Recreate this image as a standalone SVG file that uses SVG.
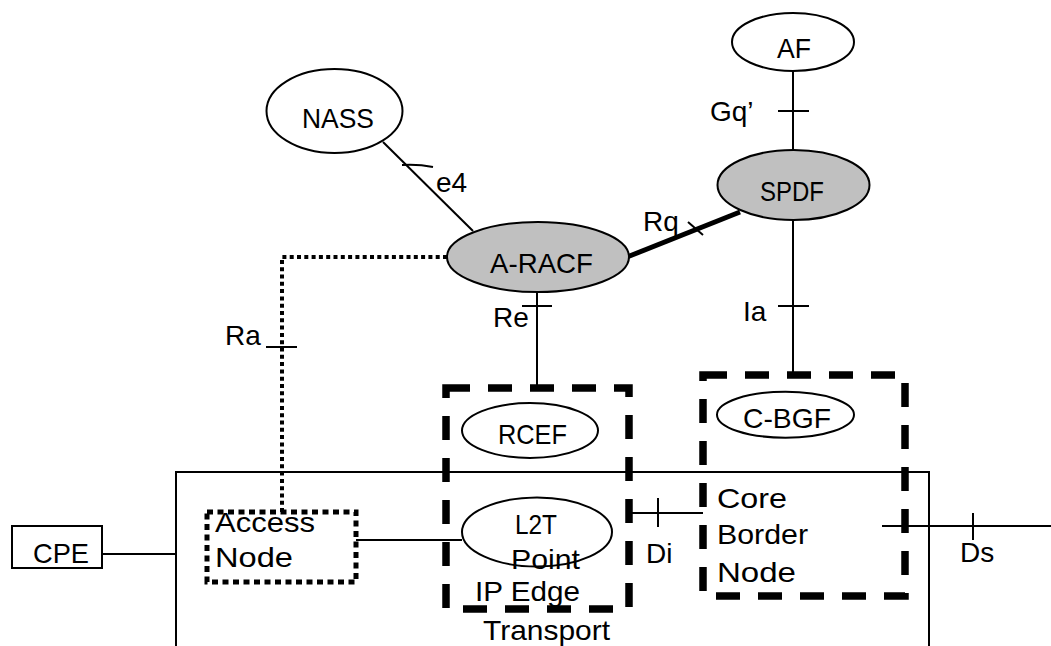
<svg xmlns="http://www.w3.org/2000/svg" width="1051" height="646" viewBox="0 0 1051 646">
<style>
text{font-family:"Liberation Sans",Arial,sans-serif;font-size:28px;fill:#000}
.ell{fill:#fff;stroke:#000;stroke-width:2}
.grey{fill:#c0c0c0;stroke:#000;stroke-width:2}
.ln{stroke:#000;stroke-width:2;fill:none}
.dash{fill:none;stroke:#000;stroke-width:7.5;stroke-dasharray:24 18}
.dot{fill:none;stroke:#000;stroke-width:5;stroke-dasharray:6 4.5}
</style>
<rect width="1051" height="646" fill="#fff"/>
<g id="transport">
<rect class="ln" x="176" y="472" width="753" height="200"/>
<text x="483" y="640" textLength="127" lengthAdjust="spacingAndGlyphs">Transport</text>
</g>
<g id="connectors">
<line class="ln" x1="383" y1="142" x2="473" y2="231"/>
<path class="ln" d="M402,165 Q418,164 433,167"/>
<line x1="627" y1="257" x2="740" y2="212" stroke="#000" stroke-width="5"/>
<line class="ln" x1="688" y1="222" x2="703" y2="235"/>
<line class="ln" x1="793" y1="71" x2="793" y2="150"/>
<line class="ln" x1="778" y1="111" x2="809" y2="111"/>
<line class="ln" x1="793" y1="220" x2="793" y2="375"/>
<line class="ln" x1="778" y1="306" x2="809" y2="306"/>
<line class="ln" x1="537" y1="292" x2="537" y2="388"/>
<line class="ln" x1="522" y1="306" x2="552" y2="306"/>
<path d="M447,257 H282 V512" fill="none" stroke="#000" stroke-width="4" stroke-dasharray="4 3.3"/>
<line class="ln" x1="266" y1="347" x2="297" y2="347"/>
<line class="ln" x1="102" y1="554" x2="176" y2="554"/>
<line class="ln" x1="356" y1="540" x2="462" y2="540"/>
<line class="ln" x1="627" y1="513" x2="703" y2="513"/>
<line class="ln" x1="658" y1="498" x2="658" y2="527"/>
<line class="ln" x1="882" y1="526" x2="1051" y2="526"/>
<line class="ln" x1="973" y1="513" x2="973" y2="540"/>
<text x="436" y="192">e4</text>
<text x="710" y="121">Gq’</text>
<text x="643" y="231">Rq</text>
<text x="493" y="327">Re</text>
<text x="225" y="345">Ra</text>
<text x="743" y="321">Ia</text>
<text x="646" y="563">Di</text>
<text x="960" y="562">Ds</text>
</g>
<g id="nass">
<ellipse class="ell" cx="334.5" cy="111" rx="68" ry="42"/>
<text x="302" y="128" textLength="72" lengthAdjust="spacingAndGlyphs">NASS</text>
</g>
<g id="af">
<ellipse class="ell" cx="793" cy="42" rx="61" ry="29"/>
<text x="777" y="58" textLength="34" lengthAdjust="spacingAndGlyphs">AF</text>
</g>
<g id="spdf">
<ellipse class="grey" cx="793.5" cy="185" rx="76" ry="35"/>
<text x="760" y="201" textLength="64" lengthAdjust="spacingAndGlyphs">SPDF</text>
</g>
<g id="a-racf">
<ellipse class="grey" cx="538" cy="257" rx="91" ry="35"/>
<text x="490" y="273" textLength="103" lengthAdjust="spacingAndGlyphs">A-RACF</text>
</g>
<g id="rcef-box">
<rect class="dash" x="446" y="388" width="183" height="221"/>
</g>
<g id="rcef">
<ellipse class="ell" cx="530" cy="430.5" rx="68" ry="27.5"/>
<text x="498" y="444" textLength="69" lengthAdjust="spacingAndGlyphs">RCEF</text>
</g>
<g id="cbgf-box">
<rect class="dash" x="703" y="375" width="202" height="221"/>
</g>
<g id="cbgf">
<ellipse class="ell" cx="785.5" cy="414.7" rx="68.5" ry="23"/>
<text x="743" y="428" textLength="88" lengthAdjust="spacingAndGlyphs">C-BGF</text>
</g>
<g id="l2t">
<ellipse class="ell" cx="537" cy="532" rx="75" ry="34.5"/>
<text x="515" y="534" textLength="42" lengthAdjust="spacingAndGlyphs">L2T</text>
<text x="511" y="569" textLength="69" lengthAdjust="spacingAndGlyphs">Point</text>
</g>
<g id="ip-edge">
<text x="475" y="601" textLength="105" lengthAdjust="spacingAndGlyphs">IP Edge</text>
</g>
<g id="core-border-node">
<text x="717" y="508" textLength="70" lengthAdjust="spacingAndGlyphs">Core</text>
<text x="717" y="544" textLength="91" lengthAdjust="spacingAndGlyphs">Border</text>
<text x="717" y="582" textLength="79" lengthAdjust="spacingAndGlyphs">Node</text>
</g>
<g id="access-node">
<rect class="dot" x="207" y="512" width="149" height="70"/>
<text x="215" y="532" textLength="100" lengthAdjust="spacingAndGlyphs">Access</text>
<text x="215" y="567" textLength="78" lengthAdjust="spacingAndGlyphs">Node</text>
</g>
<g id="cpe">
<rect class="ln" x="12" y="526" width="90" height="42"/>
<text x="33" y="563" textLength="56" lengthAdjust="spacingAndGlyphs">CPE</text>
</g>
</svg>
